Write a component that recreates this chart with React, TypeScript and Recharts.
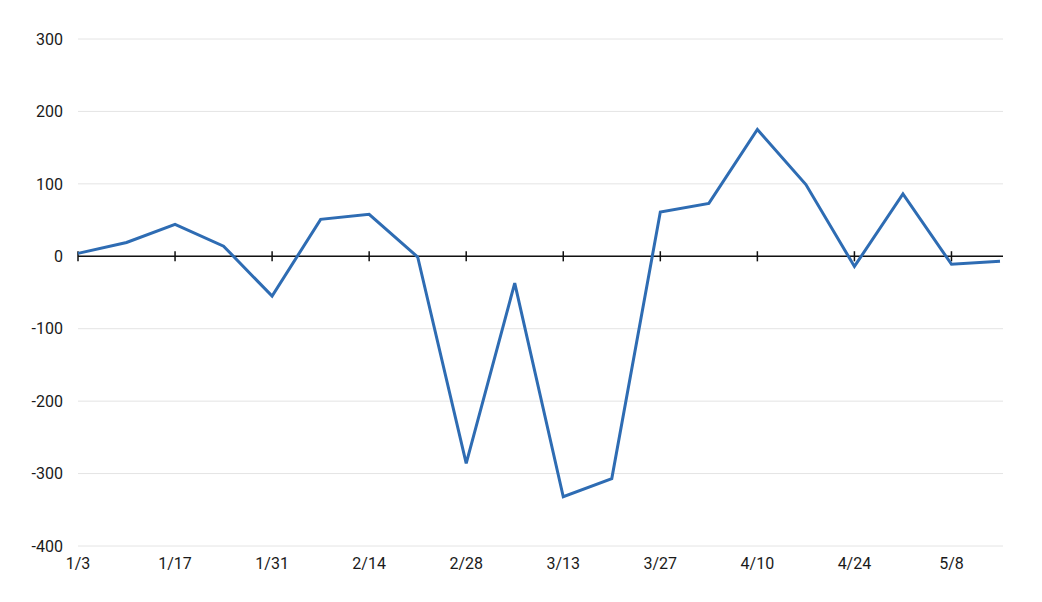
import { LineChart, Line, XAxis, YAxis, CartesianGrid, ReferenceLine } from "recharts";

const dates = [
  "1/3", "1/10", "1/17", "1/24", "1/31", "2/7", "2/14", "2/21", "2/28", "3/6",
  "3/13", "3/20", "3/27", "4/3", "4/10", "4/17", "4/24", "5/1", "5/8", "5/15",
];
const values = [4, 19, 44, 14, -55, 51, 58, -1, -286, -37, -332, -307, 61, 73, 175, 99, -14, 86, -11, -7];
const yTicks = [-400, -300, -200, -100, 0, 100, 200, 300];
const tickDates = dates.filter((_, i) => i % 2 === 0);

const data = dates.map((date, i) => ({ date, value: values[i] }));

const font = "Roboto, 'DejaVu Sans', sans-serif";

export default function App() {
  return (
    <div style={{ fontFamily: font }}>
      <LineChart width={1020} height={580} data={data} margin={{ top: 31, right: 25, bottom: 0, left: 0 }}>
        <CartesianGrid vertical={false} stroke="#e4e4e4" strokeWidth={1} />
        <XAxis
          dataKey="date"
          interval={1}
          axisLine={false}
          tickLine={false}
          tickSize={0}
          tickMargin={12}
          height={42}
          padding={{ left: 0, right: 3 }}
          tick={{ fontSize: 16, fill: "#1a1a1a", fontFamily: font }}
        />
        <YAxis
          domain={[-400, 300]}
          ticks={yTicks}
          axisLine={false}
          tickLine={false}
          tickSize={0}
          tickMargin={15}
          width={70}
          tick={{ fontSize: 16, fill: "#1a1a1a", fontFamily: font }}
        />
        <ReferenceLine y={0} stroke="#111" strokeWidth={1.5} />
        {tickDates.map((d) => (
          <ReferenceLine
            key={d}
            segment={[
              { x: d, y: -7 },
              { x: d, y: 7 },
            ]}
            stroke="#111"
            strokeWidth={1.5}
          />
        ))}
        <Line
          type="linear"
          dataKey="value"
          stroke="#2e6cb3"
          strokeWidth={3}
          dot={false}
          isAnimationActive={false}
        />
      </LineChart>
    </div>
  );
}
